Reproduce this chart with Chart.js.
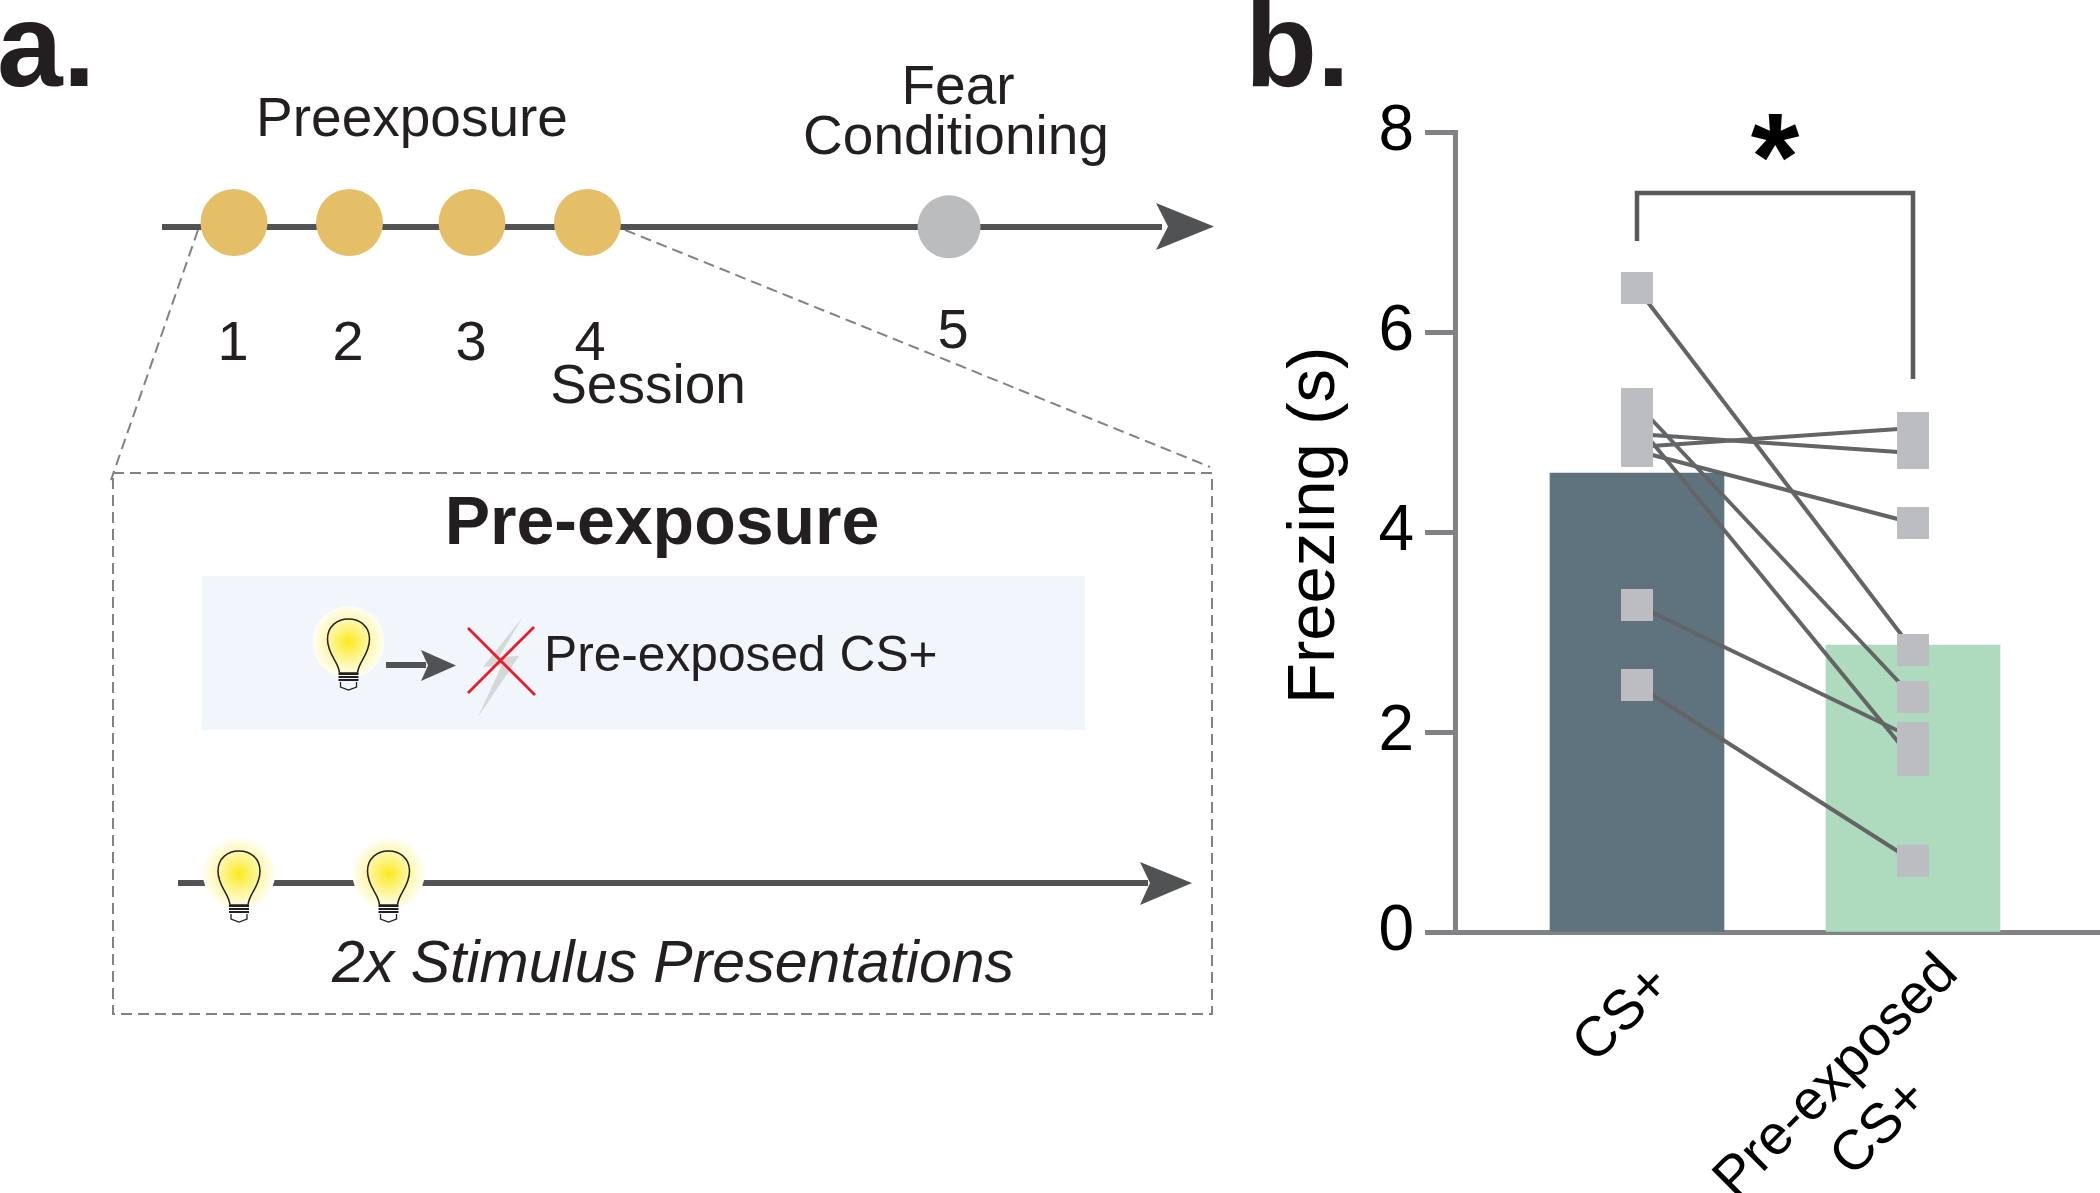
<!DOCTYPE html>
<html>
<head>
<meta charset="utf-8">
<title>Pre-exposure and freezing</title>
<script src="https://cdn.jsdelivr.net/npm/chart.js@4"></script>
<style>
    html, body { margin: 0; padding: 0; background: #fff; }
    #page { position: relative; width: 2100px; height: 1193px; overflow: hidden; }
    #schematic, #freezingChart { position: absolute; left: 0; top: 0; }
    #schematic text { font-family: "Liberation Sans", Arial, sans-serif; fill: #231f20; }
</style>
</head>
<body>
<div id="page">
<svg id="schematic" width="2100" height="1193" viewBox="0 0 2100 1193">
    <defs>
        <radialGradient id="glow">
            <stop offset="0" stop-color="#fbe91c"/>
            <stop offset="0.35" stop-color="#fcf275"/>
            <stop offset="0.75" stop-color="#fefacb"/>
            <stop offset="1" stop-color="#fffef2"/>
        </radialGradient>
        <g id="bulb">
            <circle cx="0" cy="23" r="36" fill="url(#glow)"/>
            <path d="M-9,54 C-10,42 -21,36 -21,20 C-21,7 -11,0 0,0 C11,0 21,7 21,20 C21,36 10,42 9,54 Z" fill="none" stroke="#231f20" stroke-width="1.5"/>
            <path d="M-10,55 H10 M-10,58 H10 M-10,61 H10" stroke="#231f20" stroke-width="1.8"/>
            <path d="M-8,63 V68 L0,71 L8,68 V63" fill="none" stroke="#231f20" stroke-width="1.3"/>
        </g>
    </defs>

    <text x="-3" y="86" font-size="118" font-weight="bold">a.</text>
    <text x="1245" y="86" font-size="118" font-weight="bold">b.</text>

    <!-- session timeline -->
    <path d="M198,230 L111,480" stroke="#808285" stroke-width="2" stroke-dasharray="11 6" fill="none"/>
    <path d="M625,230 L1210,467" stroke="#808285" stroke-width="2" stroke-dasharray="11 6" fill="none"/>
    <rect x="162" y="224" width="1000" height="6" fill="#505254"/>
    <path d="M1156,203 L1214,226.500 L1156,250 L1168,226.500 Z" fill="#505254"/>
    <ellipse cx="234" cy="222.500" rx="33.500" ry="33.500" fill="#e5bf68"/>
    <ellipse cx="349.500" cy="222.500" rx="33.500" ry="33.500" fill="#e5bf68"/>
    <ellipse cx="472" cy="222.500" rx="33.500" ry="33.500" fill="#e5bf68"/>
    <ellipse cx="587.500" cy="222.500" rx="33.500" ry="33.500" fill="#e5bf68"/>
    <ellipse cx="949" cy="226.800" rx="31.500" ry="31.500" fill="#bbbcbe"/>

    <text x="412" y="136" font-size="55" text-anchor="middle">Preexposure</text>
    <text x="958" y="104" font-size="55" text-anchor="middle">Fear</text>
    <text x="956" y="154" font-size="55" text-anchor="middle">Conditioning</text>
    <text x="233" y="360" font-size="56" text-anchor="middle">1</text>
    <text x="348" y="360" font-size="56" text-anchor="middle">2</text>
    <text x="471" y="360" font-size="56" text-anchor="middle">3</text>
    <text x="590" y="360" font-size="56" text-anchor="middle">4</text>
    <text x="953" y="348" font-size="56" text-anchor="middle">5</text>
    <text x="648" y="403" font-size="55" text-anchor="middle">Session</text>

    <!-- pre-exposure inset -->
    <rect x="113" y="473" width="1099" height="541" fill="none" stroke="#808285" stroke-width="2" stroke-dasharray="11 6"/>
    <text x="662" y="544" font-size="68" font-weight="bold" text-anchor="middle">Pre-exposure</text>
    <rect x="202" y="576" width="883" height="154" fill="#f1f6fc"/>

    <use href="#bulb" x="348.500" y="619"/>
    <rect x="386" y="662" width="40" height="6" fill="#505254"/>
    <path d="M421,650 L456,665.500 L421,681 L428,665.500 Z" fill="#505254"/>
    <path d="M522,618 L483,667 L502,665 L478,717 L519,656 L499,657 Z" fill="#d5d7d9"/>
    <path d="M468,628 L535,695 M534,627 L468,693" stroke="#ed1c24" stroke-width="2.800" fill="none"/>
    <text x="544" y="671" font-size="49.700">Pre-exposed CS+</text>

    <rect x="178" y="880" width="970" height="6" fill="#505254"/>
    <path d="M1140,862 L1192,883 L1140,905 L1150,883 Z" fill="#505254"/>
    <use href="#bulb" x="239" y="851"/>
    <use href="#bulb" x="388.500" y="851"/>
    <text x="332" y="982" font-size="59" font-style="italic">2x Stimulus Presentations</text>
</svg>
<canvas id="freezingChart" width="2100" height="1193"></canvas>
</div>
<script>
// values
const categories = ['CS+\u00a0', ['Pre-exposed', 'CS+\u00a0\u00a0\u00a0\u00a0\u00a0\u00a0\u00a0']];
const categoryPositions = [1, 2];
const groupMeans = [4.59, 2.87];
const csPlus = [6.44, 5.28, 5.08, 4.98, 4.85, 4.81, 3.27, 2.47];
const preExposedCs = [2.82, 2.35, 1.72, 4.79, 5.04, 4.09, 1.94, 0.71];
const yTicks = [0, 2, 4, 6, 8];
const bracketX = [1, 1, 2, 2];
const bracketY = [6.91, 7.39, 7.39, 5.53];
const significance = '*';

const FONT = '"Liberation Sans", Arial, sans-serif';
const AXIS_GREY = '#808285';

// paired lines, one dataset per animal
const pairLines = csPlus.map((v, i) => ({
    type: 'line',
    data: [{ x: 1, y: v }, { x: 2, y: preExposedCs[i] }],
    borderColor: '#636466',
    borderWidth: 4,
    pointRadius: 0,
    order: 3
}));

const squares = (vals, x) => ({
    type: 'scatter',
    data: vals.map(v => ({ x: x, y: v })),
    pointStyle: 'rect',
    pointRadius: 22.6,
    pointBackgroundColor: '#bcbdc0',
    pointBorderWidth: 0,
    order: 2
});

// star above the bracket
const starPlugin = {
    id: 'star',
    afterDatasetsDraw(chart) {
        const { ctx, scales } = chart;
        ctx.save();
        ctx.font = 'bold 125px ' + FONT;
        ctx.fillStyle = '#000';
        ctx.textAlign = 'center';
        ctx.textBaseline = 'alphabetic';
        ctx.fillText(significance, scales.x.getPixelForValue(1.5), scales.y.getPixelForValue(7.32));
        ctx.restore();
    }
};

new Chart(document.getElementById('freezingChart'), {
    type: 'bar',
    data: {
        datasets: [
            {
                type: 'bar',
                data: categoryPositions.map((x, i) => ({ x: x, y: groupMeans[i] })),
                backgroundColor: ['#5f737e', '#aedbbe'],
                barThickness: 174,
                order: 4
            },
            ...pairLines,
            squares(csPlus, 1),
            squares(preExposedCs, 2),
            {
                type: 'line',
                data: bracketX.map((x, i) => ({ x: x, y: bracketY[i] })),
                borderColor: '#58595b',
                borderWidth: 4.5,
                pointRadius: 0,
                order: 1
            }
        ]
    },
    options: {
        responsive: false,
        animation: false,
        layout: { autoPadding: false, padding: { left: 1275, top: 132, right: 0, bottom: 0 } },
        plugins: { legend: { display: false }, tooltip: { enabled: false } },
        scales: {
            x: {
                type: 'linear',
                min: 0.3406,
                max: 2.6775,
                offset: false,
                afterBuildTicks: s => { s.ticks = categoryPositions.map(v => ({ value: v })); },
                afterFit: s => {
                    s.height = 261;
                    s.paddingLeft = 0;
                    s.paddingRight = 0;
                },
                grid: { display: false },
                border: { color: AXIS_GREY, width: 5 },
                ticks: {
                    autoSkip: false,
                    minRotation: 45,
                    maxRotation: 45,
                    padding: 1,
                    labelOffset: 36,
                    color: '#000',
                    font: { family: FONT, size: 56 },
                    callback: v => categories[v - 1]
                }
            },
            y: {
                min: 0,
                max: 8,
                afterBuildTicks: s => { s.ticks = yTicks.map(v => ({ value: v })); },
                afterFit: s => { s.width = 180; },
                grid: { drawOnChartArea: false, tickLength: 30, tickWidth: 5, tickColor: AXIS_GREY },
                border: { color: AXIS_GREY, width: 5 },
                ticks: { padding: 11, color: '#000', font: { family: FONT, size: 64 } },
                title: {
                    display: true,
                    text: '\u2009Freezing (s)',
                    color: '#000',
                    font: { family: FONT, size: 67 },
                    padding: 0
                }
            }
        }
    },
    plugins: [starPlugin]
});
</script>
</body>
</html>
